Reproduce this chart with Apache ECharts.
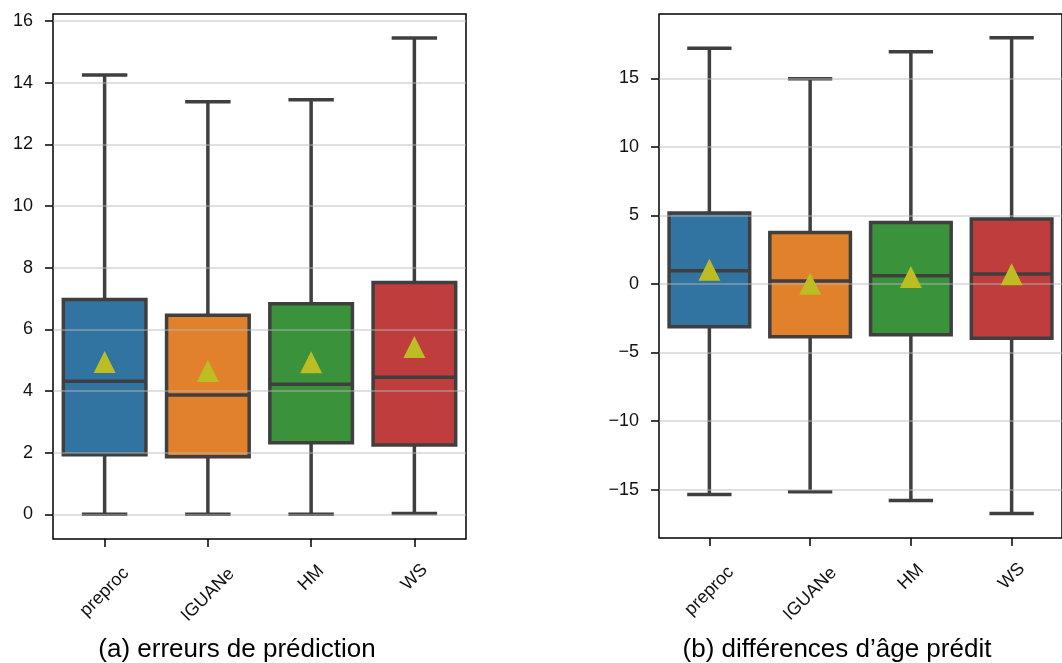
<!DOCTYPE html>
<html><head><meta charset="utf-8">
<script src="https://cdn.jsdelivr.net/npm/echarts@6/dist/echarts.min.js"></script>
<style>html,body{margin:0;padding:0;background:#fff}#c{width:1062px;height:663px}</style>
</head><body><div id="c"></div>
<script>
const categories = ['preproc', 'IGUANe', 'HM', 'WS'];
// (a) erreurs de prédiction
const errLow = [0, 0, 0, 0.03];
const errQ1 = [1.93, 1.87, 2.32, 2.25];
const errMedian = [4.32, 3.87, 4.22, 4.45];
const errQ3 = [6.97, 6.46, 6.83, 7.52];
const errHigh = [14.25, 13.38, 13.45, 15.45];
const errMean = [4.94, 4.65, 4.93, 5.43];
// (b) différences d'âge prédit
const diffLow = [-15.35, -15.15, -15.8, -16.75];
const diffQ1 = [-3.13, -3.86, -3.71, -3.96];
const diffMedian = [0.97, 0.22, 0.6, 0.73];
const diffQ3 = [5.17, 3.76, 4.49, 4.73];
const diffHigh = [17.2, 14.97, 16.93, 17.96];
const diffMean = [1.04, 0.02, 0.5, 0.7];
const errTicks = [0, 2, 4, 6, 8, 10, 12, 14, 16];
const diffTicks = [-15, -10, -5, 0, 5, 10, 15];
const titles = ['(a) erreurs de prédiction', '(b) différences d\u2019âge prédit'];
const colors = ['#3274a1', '#e1812c', '#3a923a', '#c03d3e'];

const FONT = "'Liberation Sans', Arial, sans-serif";
const EDGE = '#3f3f3f';

function boxRender(params, api) {
  const i = api.value(0);
  const pLow = api.coord([i, api.value(1)]);
  const pQ1 = api.coord([i, api.value(2)]);
  const pMed = api.coord([i, api.value(3)]);
  const pQ3 = api.coord([i, api.value(4)]);
  const pHigh = api.coord([i, api.value(5)]);
  const band = api.size([1, 0])[0];
  const cx = pLow[0];
  const bw = band * 0.8, cw = band * 0.44;
  const st = { stroke: EDGE, lineWidth: 3.5, fill: null };
  return {
    type: 'group',
    children: [
      { type: 'line', shape: { x1: cx, y1: pQ3[1], x2: cx, y2: pHigh[1] }, style: st },
      { type: 'line', shape: { x1: cx, y1: pLow[1], x2: cx, y2: pQ1[1] }, style: st },
      { type: 'line', shape: { x1: cx - cw / 2, y1: pHigh[1], x2: cx + cw / 2, y2: pHigh[1] }, style: st },
      { type: 'line', shape: { x1: cx - cw / 2, y1: pLow[1], x2: cx + cw / 2, y2: pLow[1] }, style: st },
      { type: 'rect', shape: { x: cx - bw / 2, y: pQ3[1], width: bw, height: pQ1[1] - pQ3[1] },
        style: { fill: colors[params.dataIndex], stroke: EDGE, lineWidth: 3.5 } },
      { type: 'line', shape: { x1: cx - bw / 2, y1: pMed[1], x2: cx + bw / 2, y2: pMed[1] }, style: st }
    ]
  };
}

const fmtNum = v => (v < 0 ? '\u2212' + Math.abs(v) : String(v));
const labelRich = {
  s0: { padding: [10, 10, 0, 0], fontSize: 18, fontFamily: FONT, color: '#111' },
  s1: { padding: [14, 14, 0, 0], fontSize: 18, fontFamily: FONT, color: '#111' },
  s2: { padding: [0, 0, 10, 10], fontSize: 18, fontFamily: FONT, color: '#111' },
  s3: { padding: [0, 0, 11, 11], fontSize: 18, fontFamily: FONT, color: '#111' }
};

function xAxisFor(gi) {
  return {
    type: 'category', gridIndex: gi, data: categories, boundaryGap: true, position: 'bottom',
    axisLine: { show: false, onZero: false },
    axisTick: { show: true, alignWithLabel: true, length: 8, lineStyle: { color: '#000', width: 1.5 } },
    axisLabel: {
      rotate: 45, align: 'center', verticalAlign: 'middle', margin: 46,
      fontSize: 18, fontFamily: FONT, color: '#111',
      formatter: (v, idx) => '{s' + idx + '|' + v + '}',
      rich: labelRich
    },
    splitLine: { show: false }
  };
}
function yAxisFor(gi, min, max, ticks) {
  return {
    type: 'value', gridIndex: gi, min: min, max: max, z: 5,
    axisLine: { show: false },
    axisTick: { show: true, length: 8, lineStyle: { color: '#000', width: 1.5 }, customValues: ticks },
    axisLabel: { fontSize: 18, fontFamily: FONT, color: '#111', margin: 20, customValues: ticks, formatter: fmtNum },
    splitLine: { show: true, lineStyle: { color: 'rgba(185,185,185,0.6)', width: 1.5 } }
  };
}

const chart = echarts.init(document.getElementById('c'), null, { renderer: 'canvas' });
chart.setOption({
  animation: false,
  backgroundColor: '#fff',
  grid: [
    { left: 53, top: 14, width: 413, height: 525, show: true, borderColor: '#000', borderWidth: 1.5, backgroundColor: 'transparent' },
    { left: 659, top: 14, width: 411, height: 524, show: true, borderColor: '#000', borderWidth: 1.5, backgroundColor: 'transparent' }
  ],
  xAxis: [xAxisFor(0), xAxisFor(1)],
  yAxis: [yAxisFor(0, -0.8, 16.23, errTicks), yAxisFor(1, -18.53, 19.69, diffTicks)],
  series: [
    { type: 'custom', xAxisIndex: 0, yAxisIndex: 0, z: 2, renderItem: boxRender,
      encode: { x: 0, y: [1, 2, 3, 4, 5] },
      data: categories.map((c, k) => [k, errLow[k], errQ1[k], errMedian[k], errQ3[k], errHigh[k]]) },
    { type: 'custom', xAxisIndex: 1, yAxisIndex: 1, z: 2, renderItem: boxRender,
      encode: { x: 0, y: [1, 2, 3, 4, 5] },
      data: categories.map((c, k) => [k, diffLow[k], diffQ1[k], diffMedian[k], diffQ3[k], diffHigh[k]]) },
    { type: 'scatter', xAxisIndex: 0, yAxisIndex: 0, z: 10, symbol: 'triangle', symbolSize: 22,
      itemStyle: { color: '#bcbd22', opacity: 1 },
      data: categories.map((c, k) => [k, errMean[k]]) },
    { type: 'scatter', xAxisIndex: 1, yAxisIndex: 1, z: 10, symbol: 'triangle', symbolSize: 22,
      itemStyle: { color: '#bcbd22', opacity: 1 },
      data: categories.map((c, k) => [k, diffMean[k]]) }
  ],
  graphic: [
    { type: 'text', x: 237, y: 650, silent: true,
      style: { text: titles[0], font: '26px ' + FONT, fill: '#000', align: 'center', verticalAlign: 'middle' } },
    { type: 'text', x: 837, y: 650, silent: true,
      style: { text: titles[1], font: '26px ' + FONT, fill: '#000', align: 'center', verticalAlign: 'middle' } }
  ]
});
</script></body></html>
